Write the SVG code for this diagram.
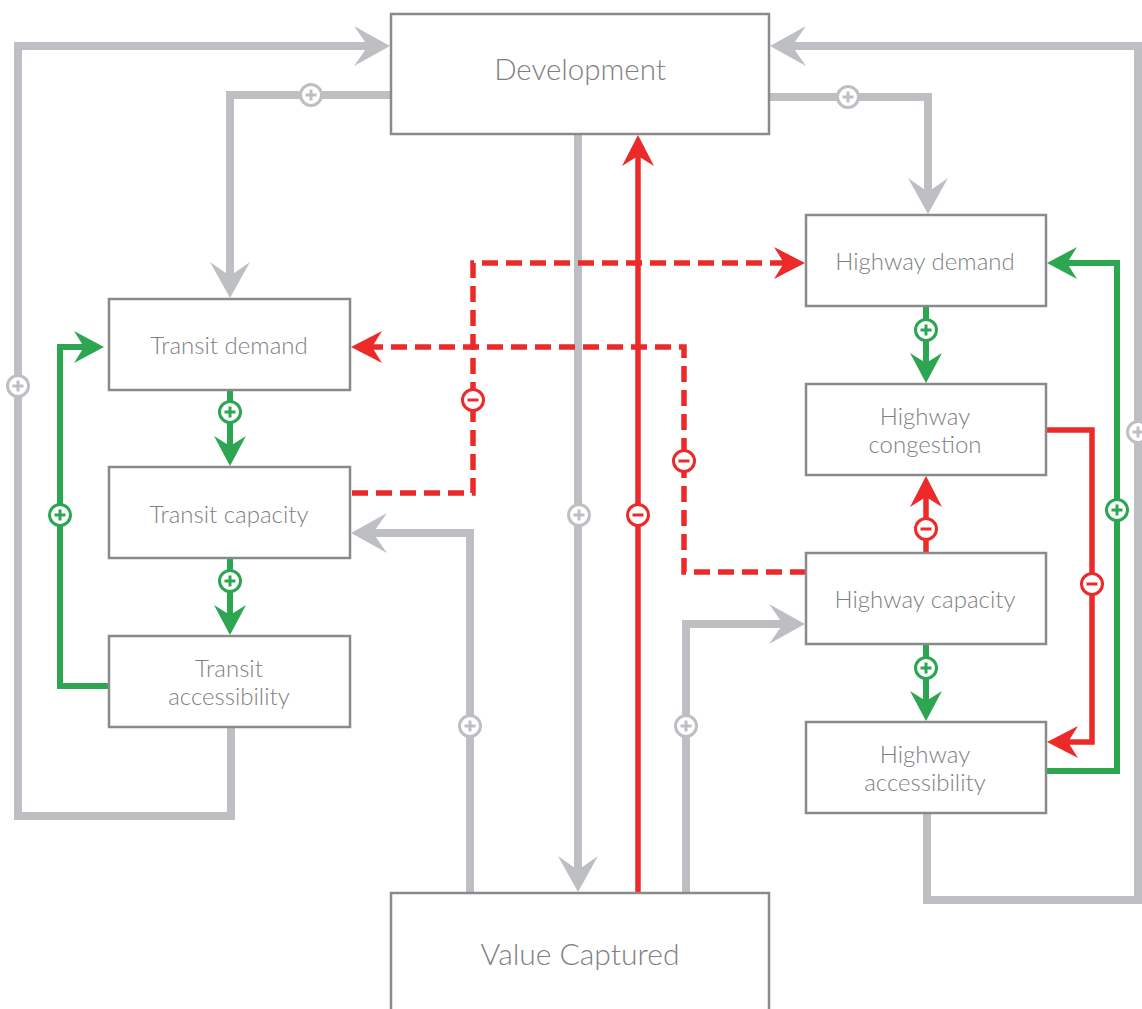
<svg xmlns="http://www.w3.org/2000/svg" width="1142" height="1009" viewBox="0 0 1142 1009">
<style>
.box{fill:#fff;stroke:#8a8a8c;stroke-width:2.5}
.t{font-family:Lato,"Liberation Sans",sans-serif;font-weight:300;fill:#808083;text-anchor:middle}
.s{font-size:24px}
.g{fill:none;stroke:#bebfc3;stroke-width:8}
.gr{fill:none;stroke:#2ca650;stroke-width:6}
.r{fill:none;stroke:#ec2a2a;stroke-width:5.5}
.d{stroke-dasharray:16 8}
.cg{fill:#fff;stroke:#bebfc3;stroke-width:3}
.cgr{fill:#fff;stroke:#2ca650;stroke-width:3}
.cr{fill:#fff;stroke:#ec2a2a;stroke-width:3}
.pg{stroke:#bebfc3;stroke-width:3}
.pgr{stroke:#2ca650;stroke-width:3}
.pr{stroke:#ec2a2a;stroke-width:3}
</style>
<defs>
<marker id="ag" markerUnits="userSpaceOnUse" orient="auto" refX="0" refY="0" markerWidth="1" markerHeight="1" overflow="visible"><path d="M17,0 L-19,-20 L-5,0 L-19,20 Z" fill="#bebfc3"/></marker>
<marker id="agr" markerUnits="userSpaceOnUse" orient="auto" refX="0" refY="0" markerWidth="1" markerHeight="1" overflow="visible"><path d="M15,0 L-15,-16 L-5,0 L-15,16 Z" fill="#2ca650"/></marker>
<marker id="ar" markerUnits="userSpaceOnUse" orient="auto" refX="0" refY="0" markerWidth="1" markerHeight="1" overflow="visible"><path d="M16,0 L-15,-16 L-5,0 L-15,16 Z" fill="#ec2a2a"/></marker>
<g id="pluG"><circle r="10.5" class="cg"/><path d="M-5.5,0H5.5M0,-5.5V5.5" class="pg"/></g>
<g id="pluGr"><circle r="10.5" class="cgr"/><path d="M-5.5,0H5.5M0,-5.5V5.5" class="pgr"/></g>
<g id="minR"><circle r="10.5" class="cr"/><path d="M-5.5,0H5.5" class="pr"/></g>
</defs>
<g id="connectors">
<path class="g" d="M231,727 V816 H18 V46 H373" marker-end="url(#ag)"/>
<path class="g" d="M391,95 H230 V281" marker-end="url(#ag)"/>
<path class="g" d="M769,97 H928 V197" marker-end="url(#ag)"/>
<path class="g" d="M927,813 V900 H1138 V46 H787" marker-end="url(#ag)"/>
<path class="g" d="M578,134 V875" marker-end="url(#ag)"/>
<path class="g" d="M470,892 V533 H368" marker-end="url(#ag)"/>
<path class="g" d="M686,892 V624 H788" marker-end="url(#ag)"/>
<path class="r" d="M638,892 V151" marker-end="url(#ar)"/>
<path class="r d" d="M352,493 H473 V263 H789" marker-end="url(#ar)"/>
<path class="r d" d="M806,572 H684 V347 H367" marker-end="url(#ar)"/>
<path class="gr" d="M230,390 V451" marker-end="url(#agr)"/>
<path class="gr" d="M230,558 V620" marker-end="url(#agr)"/>
<path class="gr" d="M109,686 H60 V347 H89" marker-end="url(#agr)"/>
<path class="gr" d="M926,306 V368" marker-end="url(#agr)"/>
<path class="r" d="M926,553 V492" marker-end="url(#ar)"/>
<path class="gr" d="M926,644 V706" marker-end="url(#agr)"/>
<path class="r" d="M1046,430 H1092 V742 H1063" marker-end="url(#ar)"/>
<path class="gr" d="M1046,771 H1117 V263 H1062" marker-end="url(#agr)"/>
<use href="#pluG" x="311" y="95"/>
<use href="#pluG" x="848" y="97"/>
<use href="#pluG" x="18" y="386"/>
<use href="#pluG" x="1138" y="432"/>
<use href="#pluG" x="579" y="515"/>
<use href="#pluG" x="470" y="726"/>
<use href="#pluG" x="686" y="726"/>
<use href="#pluGr" x="230" y="412"/>
<use href="#pluGr" x="230" y="581"/>
<use href="#pluGr" x="60" y="515"/>
<use href="#pluGr" x="926" y="330"/>
<use href="#pluGr" x="926" y="668"/>
<use href="#pluGr" x="1117" y="510"/>
<use href="#minR" x="473" y="400"/>
<use href="#minR" x="684" y="461"/>
<use href="#minR" x="638" y="515"/>
<use href="#minR" x="926" y="529"/>
<use href="#minR" x="1092" y="584"/>
</g>
<g id="development"><rect class="box" x="391" y="14" width="378" height="120"/><text class="t" x="580" y="80" font-size="29.5">Development</text></g>
<g id="value-captured"><rect class="box" x="391" y="893" width="378" height="130"/><text class="t" x="580" y="965" font-size="30">Value Captured</text></g>
<g id="transit-demand"><rect class="box" x="109" y="299" width="241" height="91"/><text class="t s" x="229" y="354">Transit demand</text></g>
<g id="transit-capacity"><rect class="box" x="109" y="467" width="241" height="91"/><text class="t s" x="229" y="523">Transit capacity</text></g>
<g id="transit-accessibility"><rect class="box" x="109" y="636" width="241" height="91"/><text class="t s" x="229" y="677">Transit</text><text class="t s" x="229" y="705">accessibility</text></g>
<g id="highway-demand"><rect class="box" x="806" y="215" width="240" height="91"/><text class="t s" x="925" y="270">Highway demand</text></g>
<g id="highway-congestion"><rect class="box" x="806" y="384" width="240" height="91"/><text class="t s" x="925" y="425">Highway</text><text class="t s" x="925" y="453">congestion</text></g>
<g id="highway-capacity"><rect class="box" x="806" y="553" width="240" height="91"/><text class="t s" x="925" y="608">Highway capacity</text></g>
<g id="highway-accessibility"><rect class="box" x="806" y="722" width="240" height="91"/><text class="t s" x="925" y="763">Highway</text><text class="t s" x="925" y="791">accessibility</text></g>
</svg>
